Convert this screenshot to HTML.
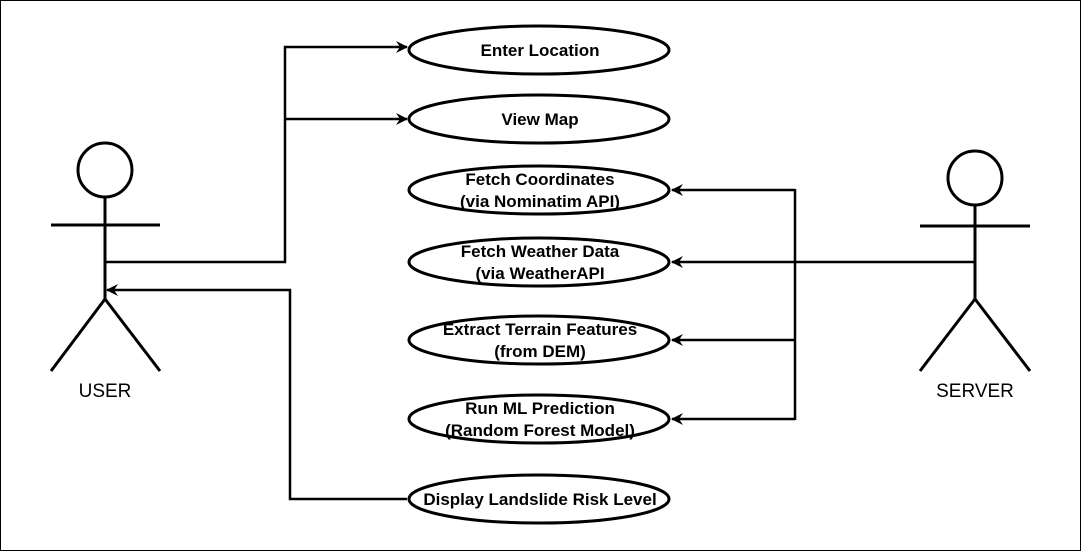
<!DOCTYPE html>
<html><head><meta charset="utf-8"><style>
html,body{margin:0;padding:0;background:#fff}
svg{display:block}
text{font-family:"Liberation Sans",Arial,sans-serif}
.t{font-weight:bold;font-size:17px;text-anchor:middle}
</style></head><body>
<svg width="1081" height="551" viewBox="0 0 1081 551" xmlns="http://www.w3.org/2000/svg">
<defs>
<marker id="a" markerWidth="12" markerHeight="12" refX="11" refY="6" orient="auto" markerUnits="userSpaceOnUse">
<path d="M0,0 L12,6 L0,12 L4,6 Z" fill="#000"/>
</marker>
</defs>
<rect x="0.5" y="0.5" width="1080" height="550" fill="#fff" stroke="#000" stroke-width="1"/>
<g stroke="#000" stroke-width="3" fill="none">
<circle cx="105" cy="170" r="27"/>
<line x1="105" y1="197" x2="105" y2="299"/>
<line x1="51" y1="225" x2="160" y2="225"/>
<line x1="105" y1="299" x2="51" y2="371"/>
<line x1="105" y1="299" x2="160" y2="371"/>
<circle cx="975" cy="178" r="27"/>
<line x1="975" y1="205" x2="975" y2="299"/>
<line x1="920" y1="226" x2="1030" y2="226"/>
<line x1="975" y1="299" x2="920" y2="371"/>
<line x1="975" y1="299" x2="1030" y2="371"/>
</g>
<text x="105" y="397" font-size="19" text-anchor="middle">USER</text>
<text x="975" y="397" font-size="19" text-anchor="middle">SERVER</text>
<g stroke="#000" stroke-width="2.5" fill="none">
<polyline points="105,262 285,262 285,47 407,47" marker-end="url(#a)"/>
<polyline points="285,119 407,119" marker-end="url(#a)"/>
<polyline points="407,499 290,499 290,290 107,290" marker-end="url(#a)"/>
<polyline points="975,262 795,262"/>
<polyline points="795,190 672,190" marker-end="url(#a)"/>
<polyline points="795,262 672,262" marker-end="url(#a)"/>
<polyline points="795,340 672,340" marker-end="url(#a)"/>
<polyline points="795,419 672,419" marker-end="url(#a)"/>
<line x1="795" y1="189" x2="795" y2="420"/>
</g>
<g stroke="#000" stroke-width="3" fill="#fff">
<ellipse cx="539" cy="50" rx="130" ry="24"/>
<ellipse cx="539" cy="119" rx="130" ry="24"/>
<ellipse cx="539" cy="190" rx="130" ry="24"/>
<ellipse cx="539" cy="262" rx="130" ry="24"/>
<ellipse cx="539" cy="340" rx="130" ry="24"/>
<ellipse cx="539" cy="419" rx="130" ry="24"/>
<ellipse cx="539" cy="499" rx="130" ry="24"/>
</g>
<text class="t" x="540" y="56">Enter Location</text>
<text class="t" x="540" y="125">View Map</text>
<text class="t" x="540" y="185">Fetch Coordinates</text>
<text class="t" x="540" y="207">(via Nominatim API)</text>
<text class="t" x="540" y="257">Fetch Weather Data</text>
<text class="t" x="540" y="279">(via WeatherAPI</text>
<text class="t" x="540" y="335">Extract Terrain Features</text>
<text class="t" x="540" y="357">(from DEM)</text>
<text class="t" x="540" y="414">Run ML Prediction</text>
<text class="t" x="540" y="436">(Random Forest Model)</text>
<text class="t" x="540" y="505">Display Landslide Risk Level</text>
</svg>
</body></html>
